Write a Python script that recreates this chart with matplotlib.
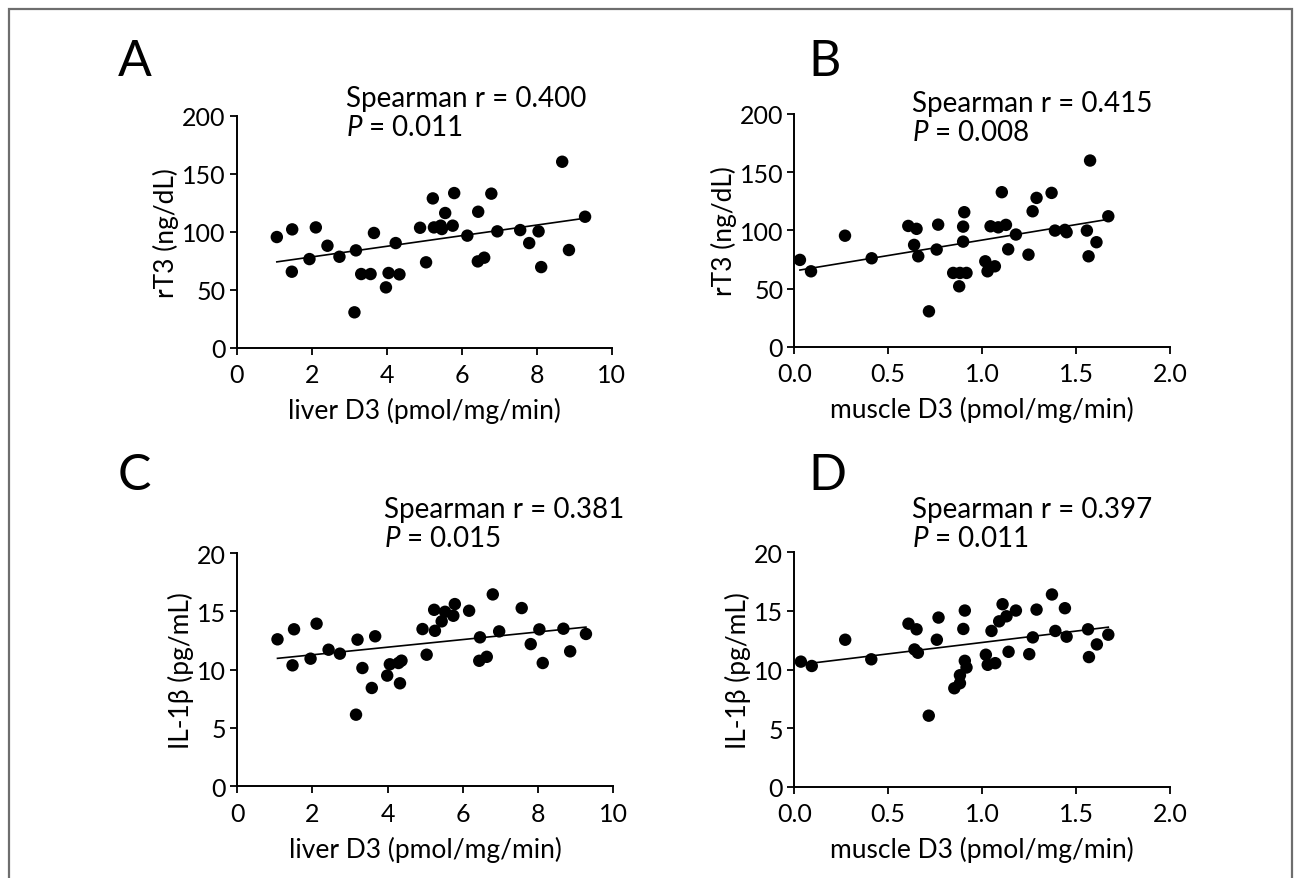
import numpy as np
import matplotlib
matplotlib.use("Agg")
import matplotlib.pyplot as plt
from matplotlib.patches import Rectangle

plt.rcParams['font.family'] = ['Lato', 'DejaVu Sans']
plt.rcParams['mathtext.fontset'] = 'custom'
plt.rcParams['mathtext.it'] = 'Lato:italic'
plt.rcParams['mathtext.rm'] = 'Lato'

# ---------------- data ----------------
liver_a = [1.07, 1.48, 1.47, 1.94, 2.11, 2.42, 2.74, 3.18, 3.14, 3.32,
           3.57, 3.66, 4.05, 3.98, 4.34, 4.24, 4.89, 5.05, 5.23, 5.26,
           5.44, 5.47, 5.56, 5.76, 5.80, 6.15, 6.44, 6.43, 6.60, 6.79,
           6.95, 7.56, 7.80, 8.05, 8.12, 8.68, 8.86, 9.29]
rt3_a = [95.4, 102, 65.5, 76.4, 103.7, 87.9, 78.4, 83.9, 30.5, 63.5,
         63.5, 98.9, 64.4, 52, 63.2, 90.2, 103.4, 73.6, 128.7, 103.7,
         105.2, 102.3, 116.1, 105.2, 133.3, 96.6, 117.2, 74.4, 77.6, 132.8,
         100.3, 101.4, 90.2, 100.3, 69.5, 160.3, 84.2, 112.9]

muscle_b = [0.030, 0.089, 0.270, 0.412, 0.607, 0.651, 0.638, 0.660, 0.717, 0.766,
            0.758, 0.905, 0.899, 0.899, 0.846, 0.882, 0.917, 0.878, 1.017, 1.029,
            1.068, 1.045, 1.086, 1.127, 1.105, 1.180, 1.139, 1.247, 1.269, 1.290,
            1.370, 1.388, 1.441, 1.450, 1.558, 1.567, 1.575, 1.609, 1.672]
rt3_b = [74.6, 64.8, 95.4, 76, 103.8, 101.3, 87.5, 77.7, 30.4, 104.9,
         83.5, 115.6, 103.2, 90.3, 63.4, 63.4, 63.4, 51.9, 73.4, 64.8,
         69.1, 103.5, 102.6, 104.7, 132.8, 96.4, 83.7, 79.1, 116.4, 127.9,
         132.2, 99.8, 100.4, 98.4, 99.8, 77.7, 160, 89.8, 112.1]

liver_c = [1.07, 1.51, 1.47, 1.95, 2.11, 2.43, 2.73, 3.20, 3.16, 3.33,
           3.58, 3.67, 4.06, 3.99, 4.33, 4.29, 4.37, 4.93, 5.04, 5.24,
           5.26, 5.44, 5.53, 5.75, 5.79, 6.17, 6.46, 6.44, 6.64, 6.80,
           6.97, 7.57, 7.81, 8.04, 8.13, 8.68, 8.86, 9.28]
il_c = [12.6, 13.46, 10.37, 10.94, 13.94, 11.71, 11.37, 12.57, 6.14, 10.14,
        8.43, 12.86, 10.46, 9.49, 8.83, 10.57, 10.77, 13.48, 11.28, 15.13,
        13.33, 14.14, 14.96, 14.62, 15.62, 15.05, 12.77, 10.76, 11.1, 16.45,
        13.28, 15.28, 12.19, 13.45, 10.57, 13.51, 11.57, 13.06]

muscle_d = [0.035, 0.093, 0.271, 0.410, 0.608, 0.651, 0.640, 0.658, 0.768, 0.759,
            0.716, 0.908, 0.900, 0.908, 0.917, 0.882, 0.882, 0.852, 1.020, 1.030,
            1.070, 1.050, 1.109, 1.091, 1.130, 1.180, 1.141, 1.251, 1.270, 1.290,
            1.372, 1.390, 1.441, 1.450, 1.564, 1.569, 1.611, 1.672]
il_d = [10.67, 10.3, 12.54, 10.87, 13.91, 13.43, 11.71, 11.43, 14.43, 12.54,
        6.06, 15.03, 13.46, 10.74, 10.17, 9.51, 8.83, 8.4, 11.26, 10.4,
        10.54, 13.29, 15.57, 14.11, 14.54, 15.03, 11.51, 11.31, 12.74, 15.11,
        16.4, 13.29, 15.23, 12.8, 13.43, 11.06, 12.14, 12.97]

panel_letters = ["A", "B", "C", "D"]
stats_r = ["0.400", "0.415", "0.381", "0.397"]
stats_p = ["0.011", "0.008", "0.015", "0.011"]
xlabels = ["liver D3 (pmol/mg/min)", "muscle D3 (pmol/mg/min)",
           "liver D3 (pmol/mg/min)", "muscle D3 (pmol/mg/min)"]
ylabels = ["rT3 (ng/dL)", "rT3 (ng/dL)", "IL-1β (pg/mL)", "IL-1β (pg/mL)"]
liver_ticks = [0, 2, 4, 6, 8, 10]
liver_ticklabels = ["0", "2", "4", "6", "8", "10"]
muscle_ticks = [0.0, 0.5, 1.0, 1.5, 2.0]
muscle_ticklabels = ["0.0", "0.5", "1.0", "1.5", "2.0"]
rt3_ticks = [0, 50, 100, 150, 200]
il_ticks = [0, 5, 10, 15, 20]

# ---------------- figure ----------------
W, H = 1296, 879
fig = plt.figure(figsize=(W / 100, H / 100), dpi=100)

def fx(px):
    return px / W

def fy(py):
    return 1 - py / H

# outer frame
fig.patches.append(Rectangle((fx(9), fy(900)), fx(1292) - fx(9), fy(10) - fy(900),
                             transform=fig.transFigure, fill=False,
                             edgecolor="#6e6e6e", linewidth=1.6))

# axes boxes in pixels: (left, top, right, bottom)
boxes = [(236.7, 116.7, 611.7, 348.7),
         (794.3, 115.0, 1169.9, 347.7),
         (237.3, 554.0, 613.0, 787.3),
         (794.3, 553.3, 1169.9, 787.7)]

panels = [(liver_a, rt3_a, liver_ticks, liver_ticklabels, (0, 10), rt3_ticks, (0, 200)),
          (muscle_b, rt3_b, muscle_ticks, muscle_ticklabels, (0, 2), rt3_ticks, (0, 200)),
          (liver_c, il_c, liver_ticks, liver_ticklabels, (0, 10), il_ticks, (0, 20)),
          (muscle_d, il_d, muscle_ticks, muscle_ticklabels, (0, 2), il_ticks, (0, 20))]

# text anchor positions (pixels)
letter_pos = [(118, 76), (808, 76), (118, 490), (808, 490)]
stat_pos = [(346, 107), (912, 112), (384, 518), (912, 518)]

for i, (xd, yd, xt, xtl, xl, yt, yl) in enumerate(panels):
    l, t, r, b = boxes[i]
    ax = fig.add_axes([fx(l), fy(b), fx(r) - fx(l), fy(t) - fy(b)])
    ax.set_xlim(*xl)
    ax.set_ylim(*yl)
    ax.spines['top'].set_visible(False)
    ax.spines['right'].set_visible(False)
    for s in ('left', 'bottom'):
        ax.spines[s].set_linewidth(1.4)
    ax.set_xticks(xt)
    ax.set_xticklabels(xtl)
    ax.set_yticks(yt)
    ax.tick_params(direction='out', length=5, width=1.3, labelsize=18)
    ax.tick_params(axis='y', pad=3)
    ax.tick_params(axis='x', pad=6)
    ax.set_xlabel(xlabels[i], fontsize=19, labelpad=8)
    ax.set_ylabel(ylabels[i], fontsize=19, labelpad=2)
    for sp in ax.spines.values():
        sp.set_clip_on(False)
    ax.scatter(xd, yd, s=80, color='black', edgecolors='none', zorder=3, clip_on=False)
    xa = np.array(xd)
    ya = np.array(yd)
    k, c = np.polyfit(xa, ya, 1)
    xx = np.array([xa.min(), xa.max()])
    ax.plot(xx, k * xx + c, color='black', linewidth=1.2, zorder=2)

    lx, ly = letter_pos[i]
    fig.text(fx(lx), fy(ly), panel_letters[i], fontsize=36, fontweight='normal',
             va='baseline', ha='left')
    sx, sy = stat_pos[i]
    fig.text(fx(sx), fy(sy), "Spearman r = " + stats_r[i], fontsize=20,
             va='baseline', ha='left')
    fig.text(fx(sx), fy(sy + 29), "$P$ = " + stats_p[i], fontsize=20,
             va='baseline', ha='left')

fig.savefig("out.png", dpi=100)
